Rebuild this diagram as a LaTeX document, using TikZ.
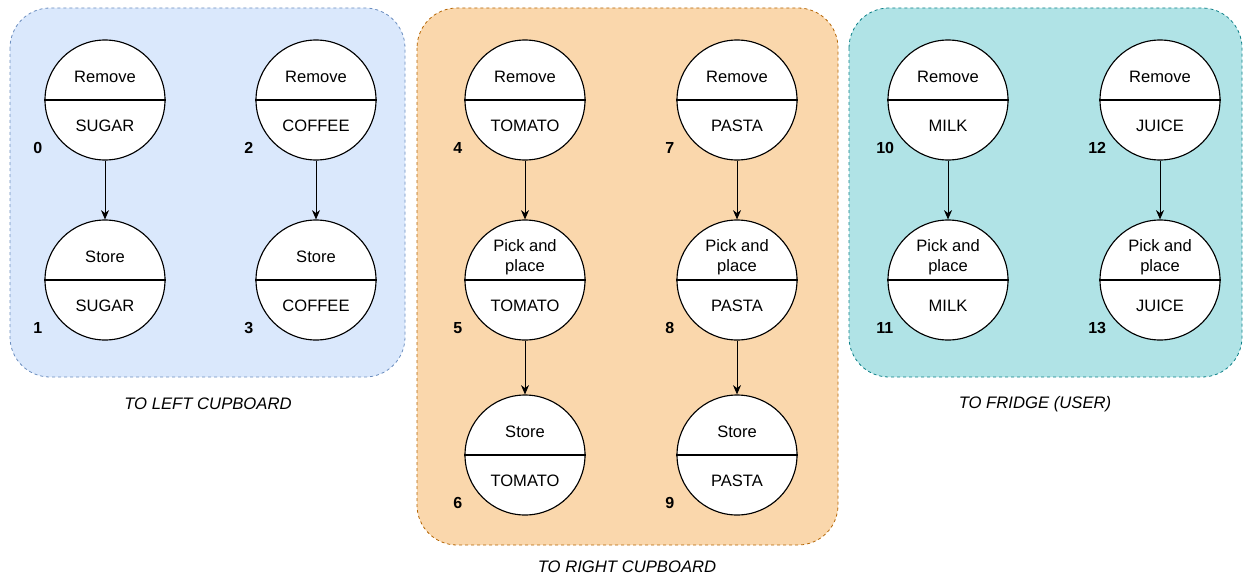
\documentclass[tikz,border=0pt]{standalone}
\usepackage{fontspec}
\setmainfont{Liberation Sans}
\usetikzlibrary{arrows.meta}
\definecolor{bluefill}{HTML}{DAE8FC}
\definecolor{bluedraw}{HTML}{6C8EBF}
\definecolor{orangefill}{HTML}{FAD7AC}
\definecolor{orangedraw}{HTML}{B46504}
\definecolor{tealfill}{HTML}{B0E3E6}
\definecolor{tealdraw}{HTML}{0E8088}
\tikzset{
  state/.style={circle, draw=black, fill=white, line width=0.85pt, minimum size=90pt, inner sep=0pt},
  txt/.style={font=\fontsize{12.4}{15}\selectfont, align=center, inner sep=0pt},
  num/.style={font=\bfseries\fontsize{12}{13}\selectfont, inner sep=0pt, anchor=west},
  group/.style={dash pattern=on 2.25pt off 2.25pt, rounded corners=30pt, line width=0.6pt},
  arr/.style={-{Stealth[length=7pt,width=6pt]}, line width=0.75pt},
  captext/.style={font=\itshape\fontsize{12.5}{14}\selectfont, inner sep=0pt}
}
\newcommand\mystate[6]{%
  \node[state] (#1) at (#2,#3) {};
  \draw[line width=0.85pt] (#1.west) -- (#1.east);
  \node[txt] (#1t) at (#2,{#3-23}) {#4};
  \node[txt] (#1b) at (#2,{#3+26}) {#5};
  \node[num] (#1n) at ({#2-72},{#3+48}) {#6};
}
\begin{document}
\begin{tikzpicture}[x=0.75pt,y=-0.75pt]
\useasboundingbox (0,0) rectangle (1244,581);
% groups
\draw[group, draw=bluedraw, fill=bluefill] (10,8) rectangle (405,377);
\draw[group, draw=orangedraw, fill=orangefill] (417,8) rectangle (838,545);
\draw[group, draw=tealdraw, fill=tealfill] (849,8) rectangle (1242,377);
% left cupboard
\mystate{c0}{105}{100}{Remove}{SUGAR}{0}
\mystate{c1}{105}{280}{Store}{SUGAR}{1}
\mystate{c2}{316}{100}{Remove}{COFFEE}{2}
\mystate{c3}{316}{280}{Store}{COFFEE}{3}
% right cupboard
\mystate{c4}{525}{100}{Remove}{TOMATO}{4}
\mystate{c5}{525}{280}{Pick and\\place}{TOMATO}{5}
\mystate{c6}{525}{455}{Store}{TOMATO}{6}
\mystate{c7}{737}{100}{Remove}{PASTA}{7}
\mystate{c8}{737}{280}{Pick and\\place}{PASTA}{8}
\mystate{c9}{737}{455}{Store}{PASTA}{9}
% fridge
\mystate{c10}{948}{100}{Remove}{MILK}{10}
\mystate{c11}{948}{280}{Pick and\\place}{MILK}{11}
\mystate{c12}{1160}{100}{Remove}{JUICE}{12}
\mystate{c13}{1160}{280}{Pick and\\place}{JUICE}{13}
% arrows
\draw[arr] (c0) -- (c1);
\draw[arr] (c2) -- (c3);
\draw[arr] (c4) -- (c5);
\draw[arr] (c5) -- (c6);
\draw[arr] (c7) -- (c8);
\draw[arr] (c8) -- (c9);
\draw[arr] (c10) -- (c11);
\draw[arr] (c12) -- (c13);
% captions
\node[captext] (capL) at (208,404) {TO LEFT CUPBOARD};
\node[captext] (capR) at (627,567) {TO RIGHT CUPBOARD};
\node[captext] (capF) at (1035,404) {TO FRIDGE (USER)};
\end{tikzpicture}
\end{document}
